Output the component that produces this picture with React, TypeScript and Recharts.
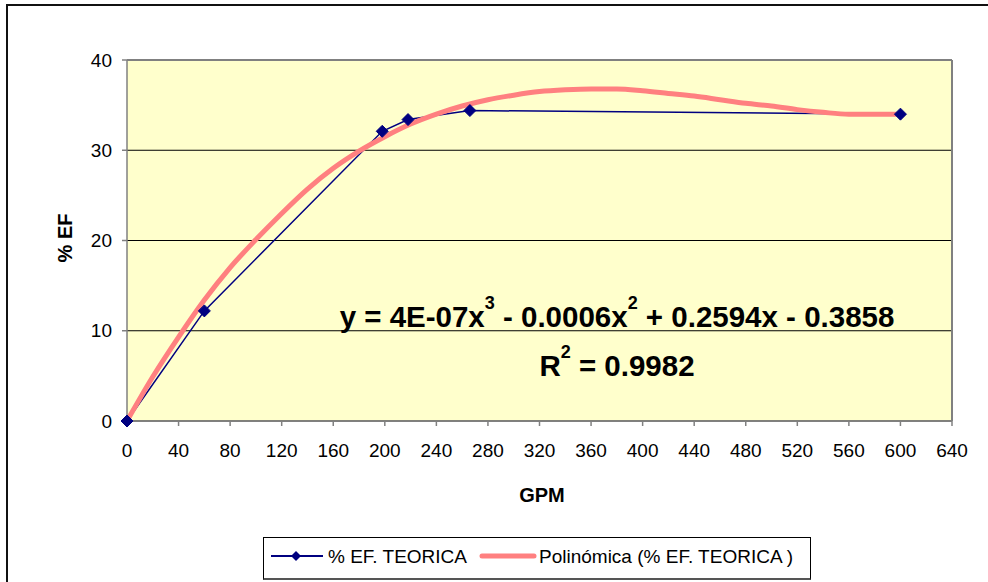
import {
  CartesianGrid,
  ComposedChart,
  Line,
  ReferenceLine,
  XAxis,
  YAxis,
} from "recharts";

// measured points (% EF. TEORICA)
const gpm = [0, 60, 198, 218, 266, 600];
const efTeorica = [0, 12.2, 32.1, 33.4, 34.4, 34.0];

// polynomial trendline
const trendGpm = [
  0, 20, 40, 60, 80, 100, 120, 140, 160, 180, 200, 220, 240, 260, 280, 300,
  320, 340, 360, 380, 400, 420, 440, 460, 480, 500, 520, 540, 560, 580, 600,
];
const trendEf = [
  0, 4.9, 9.3, 13.4, 17.0, 20.1, 23.0, 25.7, 28.0, 29.9, 31.5, 32.9, 34.0,
  34.9, 35.6, 36.1, 36.5, 36.7, 36.8, 36.8, 36.6, 36.3, 36.0, 35.6, 35.2, 34.9,
  34.5, 34.2, 34.0, 34.0, 34.0,
];

const xTicks = [
  0, 40, 80, 120, 160, 200, 240, 280, 320, 360, 400, 440, 480, 520, 560, 600,
  640,
];
const yTicks = [0, 10, 20, 30, 40];

const seriesName = "% EF. TEORICA";
const trendName = "Polinómica (% EF. TEORICA )";

const measured = gpm.map((x, i) => ({ gpm: x, ef: efTeorica[i] }));
const trend = trendGpm.map((x, i) => ({ gpm: x, ef: trendEf[i] }));

const NAVY = "#000080";
const PINK = "#FF8080";
const AXIS_GREY = "#808080";

function Diamond(props: any) {
  const { cx, cy } = props;
  if (cx == null || cy == null) return null;
  const r = 6;
  return (
    <polygon
      points={`${cx},${cy - r} ${cx + r},${cy} ${cx},${cy + r} ${cx - r},${cy}`}
      fill={NAVY}
      stroke={NAVY}
    />
  );
}

const sup = { fontSize: 18, position: "relative" as const, top: -18 };

export default function App() {
  const tickStyle = { fill: "#000", fontSize: 19 };
  return (
    <div
      style={{
        position: "absolute",
        left: 0,
        top: 0,
        width: 988,
        height: 582,
        overflow: "hidden",
        background: "#fff",
        fontFamily: "'Liberation Sans', Arial, sans-serif",
      }}
    >
      <div
        style={{
          position: "absolute",
          left: 6,
          top: 4,
          width: 1100,
          height: 700,
          border: "2px solid #111",
        }}
      />

      <div style={{ position: "absolute", left: 0, top: 0 }}>
        <ComposedChart
          width={988}
          height={582}
          margin={{ top: 60, right: 36, bottom: 101, left: 67 }}
        >
          <CartesianGrid
            fill="#FFFFCC"
            stroke="#000"
            vertical={false}
            horizontalValues={yTicks}
          />
          <ReferenceLine y={40} stroke={AXIS_GREY} strokeWidth={2} />
          <ReferenceLine x={640} stroke={AXIS_GREY} strokeWidth={2} />
          <XAxis
            dataKey="gpm"
            type="number"
            domain={[0, 640]}
            ticks={xTicks}
            allowDuplicatedCategory={false}
            height={60}
            tick={tickStyle}
            tickSize={5}
            tickMargin={18}
            axisLine={{ stroke: AXIS_GREY, strokeWidth: 1.5 }}
            tickLine={{ stroke: AXIS_GREY, strokeWidth: 1.5 }}
            interval={0}
          />
          <YAxis
            type="number"
            domain={[0, 40]}
            ticks={yTicks}
            width={60}
            tick={tickStyle}
            tickSize={5}
            tickMargin={10}
            axisLine={{ stroke: AXIS_GREY, strokeWidth: 1.5 }}
            tickLine={{ stroke: AXIS_GREY, strokeWidth: 1.5 }}
            interval={0}
          />
          <Line
            data={measured}
            dataKey="ef"
            name={seriesName}
            type="linear"
            stroke={NAVY}
            strokeWidth={1.5}
            dot={false}
            isAnimationActive={false}
          />
          <Line
            data={trend}
            dataKey="ef"
            name={trendName}
            type="monotone"
            stroke={PINK}
            strokeWidth={5}
            dot={false}
            isAnimationActive={false}
          />
          <Line
            data={measured}
            dataKey="ef"
            name="markers"
            legendType="none"
            stroke="none"
            dot={<Diamond />}
            activeDot={false}
            isAnimationActive={false}
          />
        </ComposedChart>
      </div>

      {/* axis titles */}
      <div
        style={{
          position: "absolute",
          left: 542,
          top: 495,
          transform: "translate(-50%, -50%)",
          fontSize: 20,
          lineHeight: "20px",
          fontWeight: "bold",
          whiteSpace: "nowrap",
        }}
      >
        GPM
      </div>
      <div
        style={{
          position: "absolute",
          left: 65,
          top: 238,
          transform: "translate(-50%, -50%) rotate(-90deg)",
          fontSize: 20,
          lineHeight: "20px",
          fontWeight: "bold",
          whiteSpace: "nowrap",
        }}
      >
        % EF
      </div>

      {/* trendline equation */}
      <div
        style={{
          position: "absolute",
          left: 617,
          top: 302,
          transform: "translateX(-50%)",
          fontSize: 29.5,
          lineHeight: "29.5px",
          fontWeight: "bold",
          whiteSpace: "nowrap",
        }}
      >
        y = 4E-07x<span style={sup}>3</span> - 0.0006x<span style={sup}>2</span> +
        0.2594x - 0.3858
      </div>
      <div
        style={{
          position: "absolute",
          left: 617,
          top: 351,
          transform: "translateX(-50%)",
          fontSize: 29.5,
          lineHeight: "29.5px",
          fontWeight: "bold",
          whiteSpace: "nowrap",
        }}
      >
        R<span style={sup}>2</span> = 0.9982
      </div>

      {/* legend */}
      <div
        style={{
          position: "absolute",
          left: 263,
          top: 537,
          width: 546,
          height: 40,
          border: "1px solid #000",
          borderBottomWidth: 2,
          borderBottomColor: "#555",
          boxSizing: "content-box",
          fontSize: 19,
        }}
      >
        <svg
          width={60}
          height={20}
          style={{ position: "absolute", left: 6, top: 8 }}
        >
          <line x1={1} y1={10} x2={53} y2={10} stroke={NAVY} strokeWidth={2} />
          <polygon points="26,5 31,10 26,15 21,10" fill={NAVY} />
        </svg>
        <div
          style={{
            position: "absolute",
            left: 64,
            top: 18,
            transform: "translateY(-50%)",
            lineHeight: "19px",
            whiteSpace: "nowrap",
          }}
        >
          {seriesName}
        </div>
        <svg
          width={60}
          height={20}
          style={{ position: "absolute", left: 214, top: 8 }}
        >
          <line
            x1={4}
            y1={10}
            x2={56}
            y2={10}
            stroke={PINK}
            strokeWidth={5}
            strokeLinecap="round"
          />
        </svg>
        <div
          style={{
            position: "absolute",
            left: 275,
            top: 18,
            transform: "translateY(-50%)",
            lineHeight: "19px",
            whiteSpace: "nowrap",
          }}
        >
          {trendName}
        </div>
      </div>
    </div>
  );
}
